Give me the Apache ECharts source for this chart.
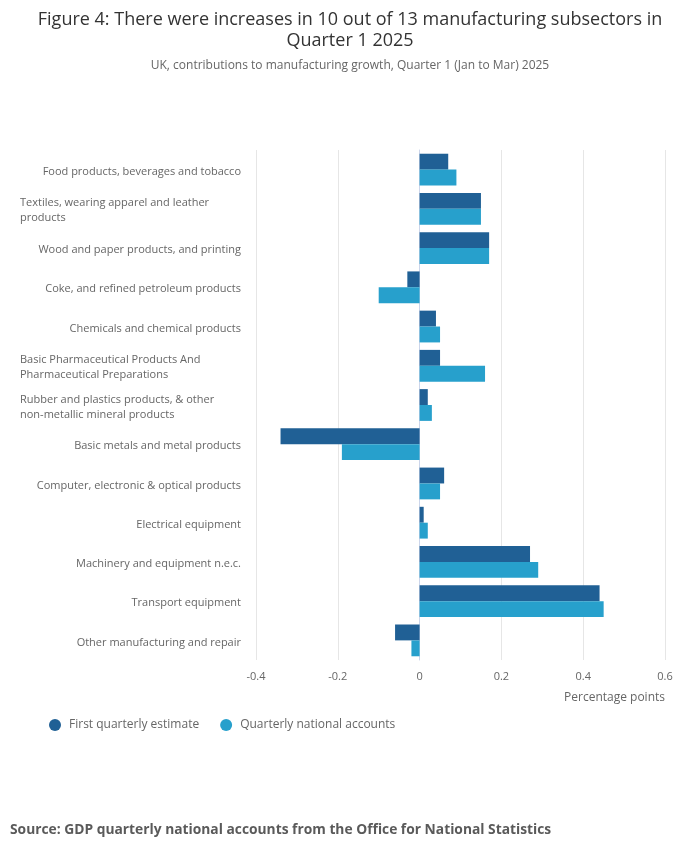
<!DOCTYPE html>
<html>
<head>
<meta charset="utf-8">
<script src="https://cdn.jsdelivr.net/npm/echarts@6/dist/echarts.min.js"></script>
<style>
  html, body { margin: 0; padding: 0; background: #fff; }
  #chart { width: 700px; height: 857px; }
</style>
</head>
<body>
<div id="chart"></div>
<script>
var categories = [
    'Food products, beverages and tobacco',
    'Textiles, wearing apparel and leather products',
    'Wood and paper products, and printing',
    'Coke, and refined petroleum products',
    'Chemicals and chemical products',
    'Basic Pharmaceutical Products And Pharmaceutical Preparations',
    'Rubber and plastics products, & other non-metallic mineral products',
    'Basic metals and metal products',
    'Computer, electronic & optical products',
    'Electrical equipment',
    'Machinery and equipment n.e.c.',
    'Transport equipment',
    'Other manufacturing and repair'
];
// labels that wrap onto two lines in the original
var labelLines = {
    'Textiles, wearing apparel and leather products': ['Textiles, wearing apparel and leather', 'products'],
    'Basic Pharmaceutical Products And Pharmaceutical Preparations': ['Basic Pharmaceutical Products And', 'Pharmaceutical Preparations'],
    'Rubber and plastics products, & other non-metallic mineral products': ['Rubber and plastics products, & other', 'non-metallic mineral products']
};
var firstEstimate = [0.07, 0.15, 0.17, -0.03, 0.04, 0.05, 0.02, -0.34, 0.06, 0.01, 0.27, 0.44, -0.06];
var nationalAccounts = [0.09, 0.15, 0.17, -0.10, 0.05, 0.16, 0.03, -0.19, 0.05, 0.02, 0.29, 0.45, -0.02];

var font = 'Open Sans';
var chart = echarts.init(document.getElementById('chart'));
chart.setOption({
    animation: false,
    textStyle: { fontFamily: font },
    title: {
        text: 'Figure 4: There were increases in 10 out of 13 manufacturing subsectors in\nQuarter 1 2025',
        subtext: 'UK, contributions to manufacturing growth, Quarter 1 (Jan to Mar) 2025',
        left: 'center',
        top: 4,
        itemGap: 9,
        textStyle: { fontFamily: font, fontSize: 18, fontWeight: 'normal', color: '#333333', lineHeight: 21 },
        subtextStyle: { fontFamily: font, fontSize: 12, color: '#666666' }
    },
    legend: {
        left: 44,
        top: 714,
        icon: 'circle',
        itemWidth: 12,
        itemHeight: 12,
        itemGap: 21,
        textStyle: { fontFamily: font, fontSize: 12, color: '#666666', padding: [0, 0, 0, 3] },
        data: ['First quarterly estimate', 'Quarterly national accounts']
    },
    graphic: [{
        type: 'text',
        left: 10,
        top: 823,
        style: {
            text: 'Source: GDP quarterly national accounts from the Office for National Statistics',
            fontFamily: font,
            fontSize: 13.8,
            fontWeight: 'bold',
            fill: '#5a5a5a'
        }
    }],
    grid: { left: 256, right: 35, top: 150, bottom: 197, containLabel: false },
    xAxis: {
        type: 'value',
        min: -0.4,
        max: 0.6,
        interval: 0.2,
        name: 'Percentage points',
        nameLocation: 'end',
        nameGap: 0,
        nameTextStyle: { fontFamily: font, fontSize: 12, color: '#666666', align: 'right', verticalAlign: 'top', padding: [32, 0, 0, 0] },
        axisLine: { show: false },
        axisTick: { show: false },
        axisLabel: {
            fontFamily: font, fontSize: 11, color: '#666666', margin: 11,
            formatter: function (v) { return String(Math.round(v * 10) / 10); }
        },
        splitLine: { lineStyle: { color: '#e6e6e6', width: 1 } }
    },
    yAxis: {
        type: 'category',
        inverse: true,
        data: categories,
        axisLine: { lineStyle: { color: '#ccd6eb', width: 1 } },
        axisTick: { length: 10, lineStyle: { color: '#ccd6eb' } },
        axisLabel: {
            margin: 15,
            fontFamily: font,
            fontSize: 11,
            color: '#666666',
            lineHeight: 15,
            padding: [4, 0, 0, 0],
            formatter: function (v) {
                var lines = labelLines[v];
                if (lines) {
                    return '{l|' + lines[0] + '}\n{l|' + lines[1] + '}';
                }
                return v;
            },
            rich: {
                l: { width: 221, align: 'left', fontFamily: font, fontSize: 11, color: '#666666', lineHeight: 15 }
            }
        }
    },
    series: [
        {
            name: 'First quarterly estimate',
            type: 'bar',
            data: firstEstimate,
            barGap: '0%',
            barCategoryGap: '19%',
            itemStyle: { color: '#206095' }
        },
        {
            name: 'Quarterly national accounts',
            type: 'bar',
            data: nationalAccounts,
            barGap: '0%',
            barCategoryGap: '19%',
            itemStyle: { color: '#27a0cc' }
        }
    ]
});
</script>
</body>
</html>
